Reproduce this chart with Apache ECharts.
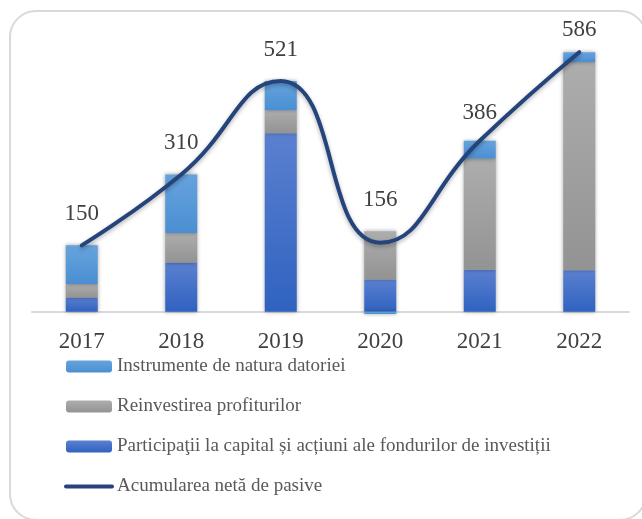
<!DOCTYPE html>
<html>
<head>
<meta charset="utf-8">
<script src="https://cdn.jsdelivr.net/npm/echarts@6/dist/echarts.min.js"></script>
<style>
  html, body { margin: 0; background: #fff; overflow: hidden; }
  .wrap { position: relative; width: 642px; height: 519px; overflow: hidden; }
  .frame {
    position: absolute;
    left: 9px;
    top: 10px;
    width: 638px;
    height: 511px;
    border: 2px solid #d9d9d9;
    border-radius: 27px;
    box-sizing: border-box;
  }
  #chart { position: absolute; left: 0; top: 0; width: 642px; height: 519px; }
</style>
</head>
<body>
<div class="wrap">
  <div class="frame"></div>
  <div id="chart"></div>
</div>
<script>
const years = ['2017', '2018', '2019', '2020', '2021', '2022']
const debtInstruments = [87, 132, 66, -26, 40, 22]
const reinvestedProfits = [31, 67, 52, 109, 251, 470]
const equityAndFunds = [32, 111, 403, 73, 95, 94]
const netLiabilities = [150, 310, 521, 156, 386, 586]

const names = [
  'Instrumente de natura datoriei',
  'Reinvestirea profiturilor',
  'Participaţii la capital și acțiuni ale fondurilor de investiții',
  'Acumularea netă de pasive',
]

// label gap above the line point, per year (style only)
const labelGap = [20, 20, 20, 31, 16, 11]

const grad = (top, bottom) => new echarts.graphic.LinearGradient(0, 0, 0, 1, [
  { offset: 0, color: top },
  { offset: 1, color: bottom },
])

const barStyle = (top, bottom) => ({
  color: grad(top, bottom),
  shadowBlur: 4,
  shadowColor: 'rgba(0, 0, 0, 0.35)',
})

const option = {
  animation: false,
  textStyle: { fontFamily: 'Liberation Serif' },
  grid: { left: 32, right: 13, top: 46, bottom: 205 },
  legend: {
    orient: 'vertical',
    left: 64,
    top: 356,
    padding: 0,
    itemWidth: 46,
    itemHeight: 12,
    itemGap: 19,
    data: [
      names[0],
      names[1],
      names[2],
      {
        name: names[3],
        itemStyle: { color: 'rgba(0,0,0,0)', borderWidth: 0 },
        lineStyle: { width: 4, cap: 'round', color: '#25447c' },
      },
    ],
    textStyle: { fontSize: 19, lineHeight: 21, color: '#595959', fontFamily: 'Liberation Serif' },
  },
  xAxis: {
    type: 'category',
    data: years,
    axisTick: { show: false },
    axisLine: { onZero: true, lineStyle: { color: '#d9d9d9', width: 2 } },
    axisLabel: { fontSize: 23, color: '#404040', margin: 16, fontFamily: 'Liberation Serif' },
  },
  yAxis: {
    type: 'value',
    min: -5,
    max: 600,
    show: false,
    splitLine: { show: false },
  },
  series: [
    {
      name: names[2],
      type: 'bar',
      stack: 'total',
      barWidth: 32,
      data: equityAndFunds,
      itemStyle: barStyle('#5b80d0', '#2f62c0'),
    },
    {
      name: names[1],
      type: 'bar',
      stack: 'total',
      barWidth: 32,
      data: reinvestedProfits,
      itemStyle: barStyle('#adadad', '#939393'),
    },
    {
      name: names[0],
      type: 'bar',
      stack: 'total',
      barWidth: 32,
      data: debtInstruments,
      itemStyle: barStyle('#66a3dd', '#4a8fd2'),
    },
    {
      name: names[3],
      type: 'line',
      smooth: 0.5,
      symbol: 'circle',
      symbolSize: 0,
      showSymbol: true,
      data: netLiabilities.map((v, i) => ({ value: v, label: { distance: labelGap[i] } })),
      lineStyle: {
        color: '#25447c',
        width: 4,
        cap: 'round',
        shadowBlur: 4,
        shadowColor: 'rgba(0, 0, 0, 0.3)',
        shadowOffsetY: 2,
      },
      itemStyle: { color: '#25447c' },
      label: {
        show: true,
        position: 'top',
        fontSize: 23,
        color: '#404040',
        fontFamily: 'Liberation Serif',
      },
      z: 5,
    },
  ],
}

const myChart = echarts.init(document.getElementById('chart'))
myChart.setOption(option)
</script>
</body>
</html>
